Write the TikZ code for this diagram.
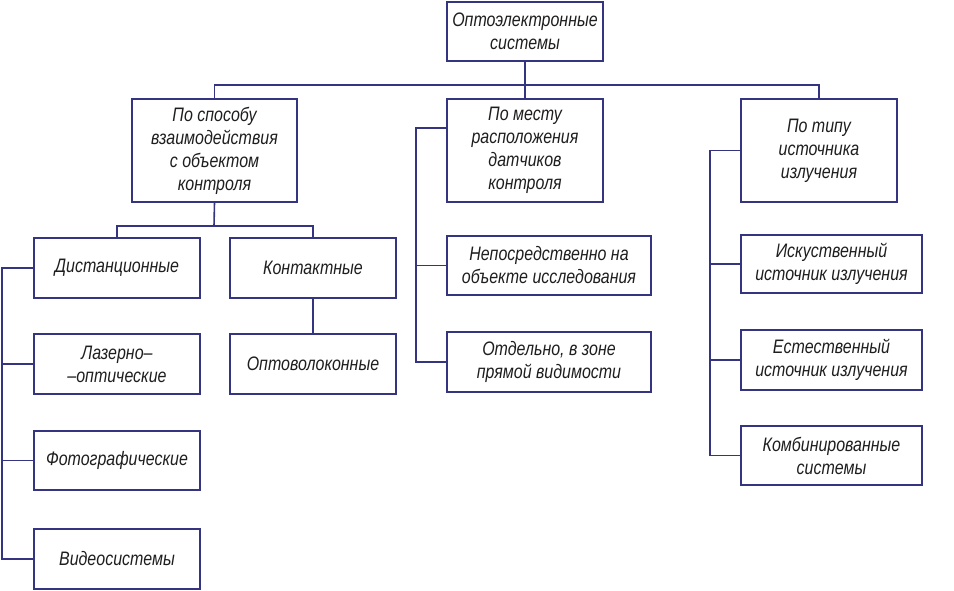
\documentclass[tikz,border=0pt]{standalone}
\usepackage{fontspec}
\setmainfont{Liberation Sans}[FakeStretch=0.82]
\definecolor{lineblue}{RGB}{52,52,128}
\definecolor{txt}{RGB}{30,30,30}
\begin{document}
\begin{tikzpicture}[x=1pt,y=-1pt,
  box/.style={draw=lineblue,line width=1.6pt,fill=white,align=center,
    inner sep=0pt,text=txt,font=\fontsize{19.5}{23}\selectfont\itshape},
  conn/.style={draw=lineblue,line width=1.6pt}]
\useasboundingbox (0,0) rectangle (954,591);
% boxes
\node[box,minimum width=156pt,minimum height=59pt] (root) at (525,31.5) {Оптоэлектронные\\системы};
\node[box,minimum width=165pt,minimum height=103pt] (A) at (214.5,150.5) {По способу\\взаимодействия\\с объектом\\контроля};
\node[box,minimum width=156pt,minimum height=103pt] (B) at (525,150.5) {По месту\\расположения\\датчиков\\контроля};
\node[box,minimum width=156pt,minimum height=103pt] (C) at (819,150.5) {По типу\\источника\\излучения};
\node[box,minimum width=166pt,minimum height=60pt] (A1) at (117,268) {Дистанционные};
\node[box,minimum width=166pt,minimum height=60pt] (A2) at (313,268) {Контактные};
\node[box,minimum width=166pt,minimum height=60pt] (A3) at (117,364) {Лазерно–\\–оптические};
\node[box,minimum width=166pt,minimum height=59pt] (A4) at (117,460.5) {Фотографические};
\node[box,minimum width=166pt,minimum height=60pt] (A5) at (117,559) {Видеосистемы};
\node[box,minimum width=166pt,minimum height=60pt] (A6) at (313,364) {Оптоволоконные};
\node[box,minimum width=204pt,minimum height=59pt] (B1) at (549,265.5) {Непосредственно на\\объекте исследования};
\node[box,minimum width=204pt,minimum height=60pt] (B2) at (549,362) {Отдельно, в зоне\\прямой видимости};
\node[box,minimum width=181pt,minimum height=58pt] (C1) at (831.5,264) {Искуственный\\источник излучения};
\node[box,minimum width=181pt,minimum height=60pt] (C2) at (831.5,360) {Естественный\\источник излучения};
\node[box,minimum width=181pt,minimum height=59pt] (C3) at (831.5,455.5) {Комбинированные\\системы};
% helper coordinates
\coordinate (bus) at (525,85);
\coordinate (abus) at (214,226);
\coordinate (lx) at (2,268);
\coordinate (bx) at (416,128);
\coordinate (cx) at (710,150.5);
% connectors
\draw[conn] (root.south) -- (B.north);
\draw[conn] (A.north) |- (bus) -| (C.north);
\draw[conn] (A.south) -- (abus);
\draw[conn] (A1.north) |- (abus) -| (A2.north);
\draw[conn] (A2.south) -- (A6.north);
\draw[conn] (A1.west) -- (lx) |- (A5.west);
\draw[conn] (A3.west) -- (A3.west -| lx);
\draw[conn] (A4.west) -- (A4.west -| lx);
\draw[conn] (B.west |- bx) -- (bx) |- (B2.west);
\draw[conn] (B1.west) -- (B1.west -| bx);
\draw[conn] (C.west) -- (cx) |- (C3.west);
\draw[conn] (C1.west) -- (C1.west -| cx);
\draw[conn] (C2.west) -- (C2.west -| cx);
\end{tikzpicture}
\end{document}
